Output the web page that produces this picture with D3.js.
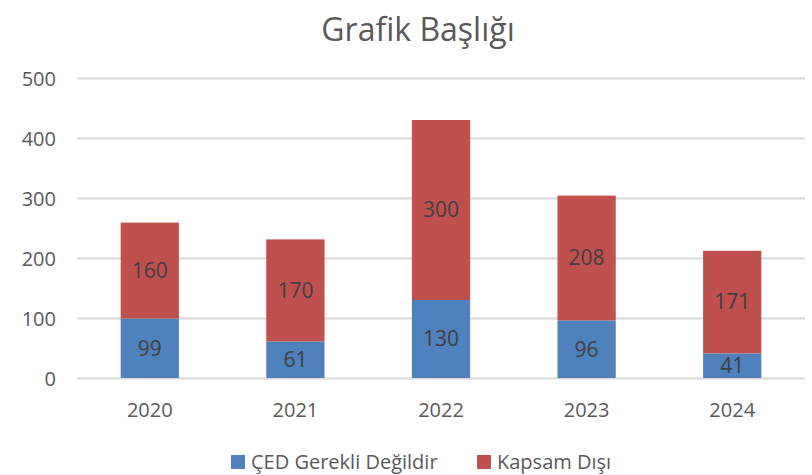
<!DOCTYPE html>
<html><head><meta charset="utf-8">
<script src="https://cdn.jsdelivr.net/npm/d3@7"></script>
<style>body{margin:0;background:#fff;} text{font-family:"Open Sans","Liberation Sans",sans-serif;}</style>
</head><body><svg id="c" width="812" height="475"></svg>
<script>
const categories = ["2020","2021","2022","2023","2024"];
const seriesNames = ["ÇED Gerekli Değildir","Kapsam Dışı"];
const cedValues = [99,61,130,96,41];
const kapsamValues = [160,170,300,208,171];
const yTicks = [0,100,200,300,400,500];
const colors = ["#4F81BD","#C0504D"];

const svg = d3.select("#c");
const pLeft = 77, pRight = 805, pTop = 78, pBottom = 378;
const x = d3.scaleBand().domain(categories).range([pLeft,pRight]).paddingInner(0.6).paddingOuter(0.3);
const y = d3.scaleLinear().domain([0,500]).range([pBottom,pTop]);

svg.append("text").attr("x",418).attr("y",41).attr("text-anchor","middle")
  .attr("font-size",32).attr("fill","#595959").text("Grafik Başlığı");

const yAxis = d3.axisLeft(y).tickValues(yTicks).tickSize(-(pRight-pLeft)).tickPadding(21);
const gy = svg.append("g").attr("transform",`translate(${pLeft},0)`).call(yAxis);
gy.select(".domain").remove();
gy.selectAll(".tick line").attr("stroke","#d9d9d9").attr("stroke-width",2);
gy.selectAll(".tick text").attr("font-size",20).attr("fill","#595959").attr("dy","0.35em");

const xAxis = d3.axisBottom(x).tickSize(0).tickPadding(0);
const gx = svg.append("g").attr("transform",`translate(0,${pBottom})`).call(xAxis);
gx.select(".domain").remove();
gx.selectAll(".tick text").attr("font-size",20).attr("fill","#595959").attr("dy",0).attr("y",39);

const stackData = categories.map((c,i)=>({cat:c, a:cedValues[i], b:kapsamValues[i]}));
const stack = d3.stack().keys(["a","b"])(stackData);
stack.forEach((layer,li)=>{
  const g = svg.append("g");
  g.selectAll("rect").data(layer).join("rect")
    .attr("x",d=>x(d.data.cat)).attr("width",x.bandwidth())
    .attr("y",d=>y(d[1])).attr("height",d=>y(d[0])-y(d[1]))
    .attr("fill",colors[li]);
  g.selectAll("text").data(layer).join("text")
    .attr("x",d=>x(d.data.cat)+x.bandwidth()/2)
    .attr("y",d=>(y(d[0])+y(d[1]))/2).attr("dy","0.35em")
    .attr("text-anchor","middle").attr("font-size",21).attr("fill","#404040")
    .text(d=>d[1]-d[0]);
});

const legend = svg.append("g");
const lx = [231,477];
seriesNames.forEach((n,i)=>{
  legend.append("rect").attr("x",lx[i]).attr("y",455).attr("width",14).attr("height",14).attr("fill",colors[i]);
  legend.append("text").attr("x",lx[i]+20).attr("y",469).attr("font-size",20).attr("fill","#595959").text(n);
});
</script></body></html>
